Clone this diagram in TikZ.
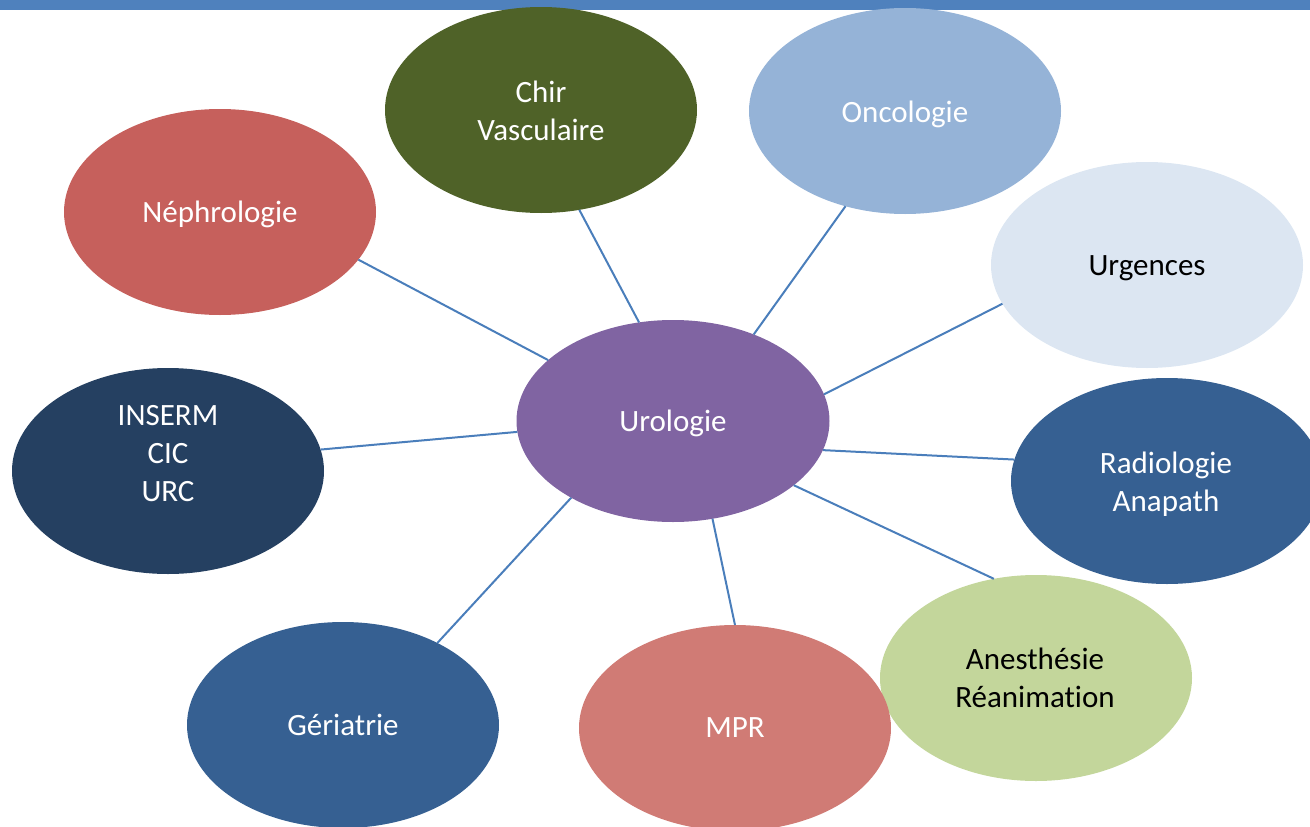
\documentclass[tikz,border=0pt]{standalone}
\usepackage{fontspec}
\setmainfont{Carlito}[Ligatures={NoCommon}]
\usetikzlibrary{shapes.geometric}
\definecolor{barblue}{HTML}{4F81BD}
\definecolor{linkblue}{HTML}{4A7EBB}
\definecolor{cUro}{HTML}{8064A2}
\definecolor{cChir}{HTML}{4F6228}
\definecolor{cOnco}{HTML}{95B3D7}
\definecolor{cNeph}{RGB}{198,96,92}
\definecolor{cUrg}{HTML}{DCE6F2}
\definecolor{cInserm}{HTML}{254061}
\definecolor{cRadio}{HTML}{366092}
\definecolor{cAnes}{HTML}{C3D69B}
\definecolor{cMpr}{RGB}{208,123,117}
\definecolor{cGer}{HTML}{366092}
\begin{document}
\begin{tikzpicture}[x=1pt,y=-1pt,
  bubble/.style={ellipse, minimum width=312pt, minimum height=206pt, inner sep=0pt, outer sep=0pt, draw=none},
  lbl/.style={anchor=base, font=\fontsize{31}{38}\selectfont, inner sep=0pt, text=white},
  dark/.style={lbl, text=black},
  link/.style={draw=linkblue, line width=2pt}]
\useasboundingbox (0,0) rectangle (1310,827);
\clip (0,0) rectangle (1310,827);
\fill[barblue] (0,0) rectangle (1310,10);
% ellipses
\node[bubble, fill=cUro, minimum width=313pt, minimum height=202pt] (uro) at (673,421) {};
\node[bubble, fill=cChir] (chir) at (541,110) {};
\node[bubble, fill=cOnco] (onco) at (905,111) {};
\node[bubble, fill=cNeph] (neph) at (220,212) {};
\node[bubble, fill=cUrg] (urg) at (1147,265) {};
\node[bubble, fill=cInserm] (inserm) at (168,471) {};
\node[bubble, fill=cRadio] (radio) at (1167,481) {};
\node[bubble, fill=cAnes] (anes) at (1036,678) {};
\node[bubble, fill=cMpr] (mpr) at (735,728) {};
\node[bubble, fill=cGer] (ger) at (343,725) {};
% labels
\node[lbl] (uroT) at (673,431) {Urologie};
\node[lbl] (chirT1) at (541,102) {Chir};
\node[lbl] (chirT2) at (541,140) {Vasculaire};
\node[lbl] (oncoT) at (905,122) {Oncologie};
\node[lbl] (nephT) at (220,222) {Néphrologie};
\node[dark] (urgT) at (1147,275) {Urgences};
\node[lbl] (insermT1) at (168,425) {INSERM};
\node[lbl] (insermT2) at (168,463) {CIC};
\node[lbl] (insermT3) at (168,501) {URC};
\node[lbl] (radioT1) at (1166,473) {Radiologie};
\node[lbl] (radioT2) at (1166,511) {Anapath};
\node[dark] (anesT1) at (1035,669) {Anesthésie};
\node[dark] (anesT2) at (1035,707) {Réanimation};
\node[lbl] (mprT) at (735,737) {MPR};
\node[lbl] (gerT) at (343,735) {Gériatrie};
% connectors
\draw[link] (neph.-19.9) -- (uro.154.8);
\draw[link] (chir.-69.6) -- (uro.109.6);
\draw[link] (onco.-122) -- (uro.47.9);
\draw[link] (urg.195) -- (uro.10.3);
\draw[link] (inserm.8.4) -- (uro.-176);
\draw[link] (radio.172.6) -- (uro.-11.5);
\draw[link] (anes.113.9) -- (uro.-28.2);
\draw[link] (mpr.90.6) -- (uro.-68.6);
\draw[link] (ger.41.5) -- (uro.-143.7);
\end{tikzpicture}
\end{document}
